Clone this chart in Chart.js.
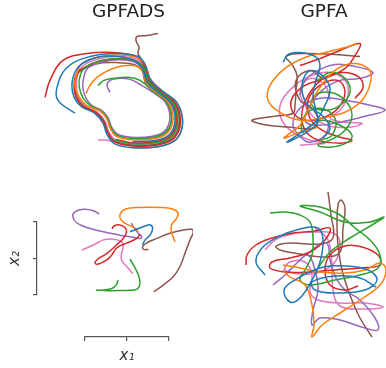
<!DOCTYPE html>
<html>
<head>
<meta charset="utf-8">
<script src="https://cdn.jsdelivr.net/npm/chart.js@4.4.1/dist/chart.umd.min.js"></script>
<style>
  body { margin: 0; background: #fff; }
  #wrap { position: relative; width: 386px; height: 368px; }
  #wrap canvas { position: absolute; }
</style>
</head>
<body>
<div id="wrap">
  <canvas id="gpfads_top" width="193" height="184" style="left:0;top:0"></canvas>
  <canvas id="gpfa_top" width="193" height="184" style="left:193px;top:0"></canvas>
  <canvas id="gpfads_bottom" width="193" height="184" style="left:0;top:184px"></canvas>
  <canvas id="gpfads_bottom_x" width="193" height="184" style="left:0;top:184px"></canvas>
  <canvas id="gpfa_bottom" width="193" height="184" style="left:193px;top:184px"></canvas>
</div>
<script>
// trajectory colours (matplotlib tab10)
const COLORS = {
    blue: '#1f77b4', orange: '#ff7f0e', green: '#2ca02c', red: '#d62728',
    purple: '#9467bd', brown: '#8c564b', pink: '#e377c2'
};
const PANEL_TITLES = ['GPFADS', 'GPFA'];
const AXIS_TICKS = [-1, 0, 1];
const AXIS_LABELS = ['x\u2081', 'x\u2082'];

// GPFADS, top row (latent pair 1)
const tl_blue = [[-4.5,-2.3],[-6.2,-1.0],[-6.3,0.3],[-5.3,2.3],[-3.0,3.4],[-0.3,3.7],[1.8,3.4],[2.50,2.61],[3.03,1.13],[4.20,-0.04],[5.58,-1.10],[6.21,-2.58],[6.11,-4.07],[5.36,-5.13],[3.77,-5.66],[1.34,-5.76],[-0.57,-5.34],[-1.31,-4.39],[-1.74,-3.22],[-2.59,-2.27],[-3.86,-1.63],[-4.60,-0.68],[-4.81,0.60],[-4.49,1.87],[-3.75,2.72],[-2.16,3.35],[-0.22,3.39],[1.48,2.97],[2.26,2.12],[2.72,0.83],[3.74,-0.18],[4.93,-1.10],[5.48,-2.39],[5.39,-3.68],[4.75,-4.60],[3.37,-5.06],[1.25,-5.15]];
const tl_orange = [[-3.4,-0.3],[-3.0,0.5],[-2.3,1.3],[-0.7,2.2],[1.3,2.5],[2.20,1.98],[2.64,0.75],[3.60,-0.22],[4.75,-1.10],[5.28,-2.33],[5.19,-3.56],[4.57,-4.44],[3.25,-4.88],[1.23,-4.97],[-0.36,-4.62],[-0.97,-3.83],[-1.32,-2.86],[-2.03,-2.07],[-3.26,-1.56],[-4.05,-0.72],[-4.5,0.5],[-4.30,1.76],[-3.75,2.72],[-2.16,3.35],[-0.25,3.56],[1.55,3.35],[2.50,2.61],[3.03,1.13],[4.20,-0.04],[5.58,-1.10],[6.21,-2.58],[6.11,-4.07],[5.36,-5.13],[3.77,-5.66],[1.34,-5.76]];
const tl_green = [[-2.2,0.5],[-1.6,1.0],[-0.7,1.2],[1.0,1.3],[2.0,1.0],[3.51,-0.25],[4.61,-1.10],[5.12,-2.29],[5.04,-3.48],[4.44,-4.33],[3.17,-4.76],[1.21,-4.84],[-0.32,-4.50],[-0.92,-3.74],[-1.26,-2.80],[-1.94,-2.04],[-2.96,-1.53],[-3.70,-0.75],[-4.08,0.37],[-3.96,1.56],[-3.37,2.39],[-1.92,2.97],[-0.17,3.17],[1.48,2.97],[2.35,2.30],[2.83,0.94],[3.90,-0.13],[5.16,-1.10],[5.74,-2.46],[5.65,-3.82],[4.97,-4.79],[3.51,-5.27],[1.28,-5.37],[-0.46,-4.98]];
const tl_red = [[-7.5,-0.7],[-7.0,1.0],[-5.7,3.0],[-3.3,3.7],[-0.7,3.8],[1.6,3.4],[2.43,2.47],[2.94,1.04],[4.07,-0.08],[5.39,-1.10],[6.00,-2.53],[5.90,-3.96],[5.19,-4.98],[3.66,-5.49],[1.31,-5.59],[-0.52,-5.18],[-1.24,-4.26],[-1.65,-3.14],[-2.46,-2.22],[-3.69,-1.61],[-4.40,-0.69],[-4.60,0.53],[-4.30,1.76],[-3.37,2.39],[-1.92,2.97],[-0.17,3.17],[1.48,2.97],[2.32,2.23],[2.79,0.90],[3.84,-0.15],[5.07,-1.10],[5.64,-2.43],[5.55,-3.76],[4.88,-4.71],[3.46,-5.19],[1.27,-5.28],[-0.44,-4.90]];
const tl_purple = [[-1.0,-0.2],[-1.3,0.5],[-1.0,1.0],[-0.2,1.2],[1.0,1.1],[2.0,0.6],[3.41,-0.28],[4.47,-1.10],[4.96,-2.25],[4.88,-3.40],[4.31,-4.22],[3.08,-4.63],[1.19,-4.71],[-0.28,-4.38],[-0.86,-3.64],[-1.19,-2.74],[-1.84,-2.00],[-2.83,-1.51],[-3.40,-0.77],[-3.72,0.26],[-3.61,1.36],[-3.21,2.25],[-1.81,2.83],[-0.14,3.07],[1.44,2.83],[2.28,2.16],[2.75,0.85],[3.77,-0.17],[4.98,-1.10],[5.54,-2.40],[5.44,-3.70],[4.79,-4.63],[3.40,-5.10],[1.26,-5.19]];
const tl_brown = [[3.8,5.7],[2.7,5.5],[1.7,5.4],[1.6,5.0],[1.9,4.3],[1.8,3.7],[2.2,3.0],[2.9,1.0],[4.0,-0.1],[5.3,-1.1],[5.9,-2.5],[5.8,-3.9],[5.1,-4.9],[3.6,-5.4],[1.3,-5.5],[-0.5,-5.1],[-1.2,-4.2],[-1.6,-3.1],[-2.4,-2.2],[-3.6,-1.6],[-4.3,-0.7],[-4.5,0.5],[-4.2,1.7],[-3.29,2.32],[-1.78,2.76],[-0.09,2.77],[1.40,2.60],[2.20,1.98],[2.57,0.69],[3.51,-0.25],[4.61,-1.10],[5.12,-2.29],[5.04,-3.48],[4.44,-4.33],[3.17,-4.76],[1.21,-4.84]];
const tl_pink = [[-2.0,2.9],[-0.17,3.17],[1.48,2.97],[2.35,2.30],[2.83,0.94],[3.90,-0.13],[5.16,-1.10],[5.74,-2.46],[5.65,-3.82],[4.97,-4.79],[3.51,-5.27],[1.28,-5.37],[-0.46,-4.98],[-1.14,-4.11],[-1.53,-3.04],[-2.31,-2.17],[-3.47,-1.59],[-4.15,-0.71],[-4.34,0.45],[-4.2,1.7],[-3.58,2.57],[-2.05,3.18],[-0.22,3.39],[1.52,3.18],[2.43,2.47],[2.94,1.04],[4.07,-0.08],[5.39,-1.10],[6.00,-2.53],[5.90,-3.96],[5.19,-4.98],[3.66,-5.49],[1.31,-5.59],[-0.52,-5.18],[-1.3,-5.0],[-2.2,-5.0]];

// GPFA, top row
const tr_blue = [[-3.7,2.8],[-3.2,3.6],[-2.0,3.8],[-0.5,3.4],[0.0,2.5],[-0.4,1.0],[-0.7,-0.5],[-0.4,-2.0],[-0.2,-3.2],[-1.0,-4.0],[-2.2,-4.7],[-3.3,-5.2],[-2.0,-4.3],[-0.5,-3.2],[0.5,-1.5],[1.0,0.2],[0.2,1.5],[-0.8,2.0],[-1.5,1.5],[-1.8,0.0],[-1.2,-1.5],[0.2,-2.5],[1.0,-3.8],[0.3,-4.8]];
const tr_orange = [[3.7,4.7],[2.5,4.3],[0.5,3.8],[-1.5,3.3],[-3.5,2.2],[-5.0,0.5],[-5.2,-1.0],[-4.0,-2.2],[-2.0,-3.0],[0.0,-2.8],[2.5,-2.2],[4.2,-1.0],[5.1,1.0],[4.8,2.2],[3.2,2.7],[1.5,2.0],[-0.2,0.0],[-1.2,-2.0],[-2.0,-3.5],[-3.0,-4.3],[-3.6,-4.8],[-2.0,-4.2],[-0.2,-3.7]];
const tr_green = [[-0.2,1.0],[1.0,1.8],[2.5,1.2],[3.0,-0.2],[2.0,-1.5],[0.5,-2.0],[-0.8,-1.5],[-0.5,-0.5],[1.0,-0.2],[2.5,-1.0],[3.2,-2.5],[2.5,-4.0],[1.0,-5.0],[-0.2,-5.5],[1.0,-5.7],[2.6,-5.3],[3.2,-4.5],[2.0,-3.5],[0.2,-3.0],[-1.0,-3.6],[-1.8,-4.2],[-1.5,-2.5],[0.0,-1.8],[1.5,-2.8],[1.2,-4.5],[0.0,-5.0]];
const tr_red = [[-2.0,2.5],[0.0,3.2],[2.0,4.0],[4.0,4.7],[3.5,3.5],[2.5,2.2],[0.5,1.2],[-1.5,0.5],[-2.8,-0.8],[-2.7,-2.2],[-1.5,-3.0],[0.2,-2.8],[1.8,-1.8],[2.5,-0.2],[1.8,1.0],[0.0,0.5],[-1.2,-1.0],[-1.0,-2.8],[0.2,-4.0],[2.0,-4.7],[3.2,-5.0],[2.0,-5.3],[-0.2,-5.0],[-1.5,-4.0],[-1.8,-2.2],[-1.0,-0.2],[0.5,1.3],[2.2,1.8],[3.8,1.4],[4.3,0.3],[3.5,-0.8]];
const tr_purple = [[-2.0,-0.5],[-1.5,1.0],[-0.2,2.0],[1.5,2.6],[3.5,2.4],[5.3,1.8],[4.0,1.2],[2.0,1.0],[0.2,0.0],[-1.0,-1.5],[-1.5,-3.0],[-0.5,-3.5],[2.0,-3.2],[4.5,-2.6],[6.5,-2.0],[5.0,-1.5],[2.5,-1.0],[0.0,-0.8],[-2.0,-1.8],[-2.7,-3.5],[-1.8,-4.8],[-1.0,-5.2],[0.5,-4.5],[1.0,-3.0]];
const tr_brown = [[4.0,3.4],[1.5,3.6],[-1.5,3.7],[-3.4,3.4],[-2.8,2.6],[-2.3,1.5],[-2.4,0.0],[-2.5,-1.5],[-2.7,-2.3],[-4.5,-2.6],[-6.8,-3.0],[-5.8,-3.4],[-3.0,-3.7],[-0.8,-3.8],[-0.2,-3.0],[-0.8,-1.8],[-2.0,-1.0],[-2.4,1.0],[-1.0,2.0],[0.2,1.2]];
const tr_pink = [[-2.0,-5.5],[-0.8,-5.4],[0.5,-5.3],[-1.0,-5.0],[-3.0,-4.0],[-4.0,-2.5],[-3.8,-1.0],[-2.5,0.5],[-0.8,1.5],[1.0,1.8],[2.5,1.0],[2.8,-0.5],[2.0,-2.0],[1.0,-2.8],[2.5,-3.2],[4.2,-3.3],[3.0,-3.7],[1.0,-3.6],[-0.5,-2.8],[-1.5,-1.5],[-2.0,0.0],[-1.0,1.2],[0.5,0.5],[1.0,-1.0]];

// GPFADS, bottom row (latent pair 2, axis units)
const bl_blue = [[0.07,0.73],[0.24,0.81],[0.43,0.89],[0.55,0.92],[0.61,0.83],[0.55,0.64],[0.43,0.51],[0.37,0.37]];
const bl_orange = [[1.14,0.46],[1.06,0.73],[1.06,0.92],[1.18,1.10],[1.22,1.24],[1.10,1.35],[0.79,1.40],[0.31,1.40],[-0.05,1.35],[-0.17,1.19],[-0.13,1.04],[0.03,0.92],[0.19,0.83],[0.27,0.73]];
const bl_green_a = [[-0.21,-0.59],[-0.26,-0.73],[-0.36,-0.82],[-0.56,-0.86],[-0.74,-0.87]];
const bl_green_b = [[0.07,-0.02],[0.17,-0.21],[0.27,-0.45],[0.31,-0.68],[0.25,-0.83],[0.07,-0.87],[-0.25,-0.88],[-0.56,-0.88]];
const bl_red = [[-0.36,0.81],[-0.31,0.89],[-0.17,0.92],[-0.05,0.85],[-0.01,0.73],[-0.09,0.55],[-0.25,0.37],[-0.48,0.14],[-0.72,-0.04],[-0.76,-0.13],[-0.68,-0.15],[-0.48,-0.04],[-0.36,0.10],[-0.29,0.23],[-0.21,0.32],[-0.01,0.42],[0.23,0.55],[0.31,0.67]];
const bl_purple = [[-0.66,1.22],[-0.80,1.31],[-1.04,1.35],[-1.24,1.28],[-1.29,1.15],[-1.20,0.98],[-0.96,0.85],[-0.56,0.73],[-0.17,0.64],[0.15,0.58],[0.31,0.55],[0.35,0.60],[0.26,0.70],[0.17,0.84],[0.10,0.97]];
const bl_brown = [[0.64,-0.91],[0.86,-0.73],[1.10,-0.50],[1.26,-0.22],[1.38,0.14],[1.50,0.51],[1.58,0.73],[1.54,0.80],[1.34,0.78],[1.02,0.69],[0.71,0.55],[0.47,0.43],[0.37,0.32],[0.40,0.25],[0.51,0.25]];
const bl_pink = [[-1.08,0.23],[-0.80,0.37],[-0.56,0.51],[-0.33,0.53],[-0.13,0.46],[-0.09,0.32],[-0.13,0.14],[-0.13,-0.04],[-0.01,-0.22],[0.14,-0.41]];

// GPFA, bottom row
const br_blue = [[-5.5,-1.0],[-6.4,0.3],[-5.8,1.7],[-4.2,2.8],[-2.0,3.6],[-0.2,3.7],[0.3,2.5],[0.0,0.3],[-0.8,-1.5],[-2.0,-3.3],[-3.0,-3.7],[-3.6,-2.5],[-2.5,-1.5],[0.0,-0.3],[2.5,-0.1],[4.8,-0.5],[5.7,-1.5],[4.5,-2.5],[1.5,-2.8],[-0.5,-2.5],[-0.8,-1.7],[1.5,-1.1],[4.0,-1.3],[5.6,-2.2]];
const br_orange = [[-3.7,0.0],[-2.0,-0.3],[0.0,-0.7],[2.5,-0.8],[4.5,-0.5],[6.0,0.2],[6.6,-0.5],[6.0,-2.0],[4.0,-3.5],[2.0,-4.8],[0.2,-6.0],[-0.8,-7.2],[-0.6,-6.0],[-0.8,-4.0],[-1.5,-2.0],[-3.0,-1.2],[-3.7,-0.5]];
const br_green = [[-5.0,5.2],[-3.5,5.3],[-2.0,5.0],[-1.0,4.3],[-0.7,2.7],[-0.8,1.0],[-1.5,-0.5],[-2.0,-1.5],[-1.0,-2.0],[1.5,-1.5],[4.0,-1.0],[5.8,-0.3],[6.0,1.0],[5.0,2.5],[3.5,3.7],[2.0,5.0],[0.0,5.8],[-2.0,5.9],[0.0,5.3],[2.5,4.3],[5.0,4.3],[6.4,4.8],[5.2,4.0],[3.0,2.7],[1.0,1.3],[-0.2,-0.3]];
const br_red = [[-7.4,0.0],[-7.3,1.0],[-6.4,2.0],[-4.8,2.7],[-2.7,3.2],[-0.5,3.4],[1.0,3.7],[0.5,2.5],[-1.0,1.3],[-3.0,0.7],[-4.8,0.3],[-5.0,-0.3],[-3.5,-0.7],[-1.0,-0.7],[1.5,-0.5],[4.0,-0.3],[6.0,0.0],[5.8,1.0],[4.2,1.8],[2.5,1.9],[1.0,1.0],[0.5,-0.5],[1.0,-2.0],[2.5,-2.5],[3.8,-2.1]];
const br_purple = [[-4.7,-2.0],[-3.5,-1.0],[-2.0,0.5],[-0.8,1.5],[0.2,2.2],[0.8,2.0],[1.0,0.5],[1.6,-1.3],[2.5,-2.5],[4.0,-3.5],[5.5,-5.3],[5.8,-6.5],[4.5,-6.3],[2.0,-5.5],[0.0,-5.3],[-0.8,-6.0],[-0.7,-4.5],[-0.2,-2.5],[-0.5,-0.5],[-1.2,1.0],[-2.2,0.3],[-3.5,-1.0]];
const br_brown = [[5.2,-7.2],[4.0,-5.3],[3.0,-3.0],[2.2,-0.5],[1.8,2.0],[1.7,4.3],[1.8,6.0],[2.1,6.5],[2.5,5.7],[2.3,3.7],[2.0,1.3],[0.5,0.8],[-2.0,1.1],[-4.0,1.5],[-4.4,1.9],[-3.0,2.2],[0.0,2.1],[1.3,2.7],[1.1,5.0],[0.8,7.3]];
const br_pink = [[-5.5,1.5],[-4.5,2.5],[-2.8,3.1],[-0.5,3.3],[1.5,3.1],[2.0,2.0],[1.5,0.3],[0.0,-0.7],[-2.0,-0.9],[-3.5,-0.5],[-3.0,0.3],[-1.5,0.3],[-0.8,-1.0],[-1.0,-2.7],[-0.2,-3.5],[2.0,-3.8],[4.5,-3.8],[6.3,-4.2],[4.5,-4.4],[2.0,-4.1],[1.3,-2.5],[1.2,0.0],[0.8,2.5],[-0.5,3.7]];

const FONT = 'DejaVu Sans';
const SPINE = '#555';

function to_points(arr) {
    return arr.map(p => ({x: p[0], y: p[1]}));
}

function line_dataset(arr, color) {
    return {
        data: to_points(arr),
        borderColor: color,
        backgroundColor: color,
        borderWidth: 1.5,
        pointRadius: 0,
        pointHoverRadius: 0,
        tension: 0.4,
        fill: false,
        clip: false
    };
}

function panel_datasets(series) {
    return series.map(s => line_dataset(s[0], COLORS[s[1]]));
}

function hidden_scale(min, max) {
    return {type: 'linear', display: false, min: min, max: max};
}

function make_panel(canvas_id, datasets, x_range, y_range, padding, title_text) {
    const ctx = document.getElementById(canvas_id).getContext('2d');
    return new Chart(ctx, {
        type: 'line',
        data: {datasets: datasets},
        options: {
            animation: false, responsive: false, devicePixelRatio: 1,
            layout: {padding: padding},
            scales: {
                x: hidden_scale(x_range[0], x_range[1]),
                y: hidden_scale(y_range[0], y_range[1])
            },
            plugins: {
                legend: {display: false},
                tooltip: {enabled: false},
                title: {
                    display: !!title_text, text: title_text || '',
                    color: '#222', padding: {top: 1, bottom: 0},
                    font: {family: FONT, size: 18.5, weight: 'normal', lineHeight: 1.2}
                }
            }
        }
    });
}

make_panel('gpfads_top', panel_datasets([
    [tl_blue, 'blue'], [tl_orange, 'orange'], [tl_green, 'green'], [tl_red, 'red'],
    [tl_purple, 'purple'], [tl_brown, 'brown'], [tl_pink, 'pink']
]), [-5.6, 7.3], [-9.4, 6.74], {left: 64}, PANEL_TITLES[0]);

make_panel('gpfa_top', panel_datasets([
    [tr_blue, 'blue'], [tr_orange, 'orange'], [tr_green, 'green'], [tr_red, 'red'],
    [tr_purple, 'purple'], [tr_brown, 'brown'], [tr_pink, 'pink']
]), [-5.8, 6.6], [-9.4, 6.74], {left: 69}, PANEL_TITLES[1]);

make_panel('gpfa_bottom', panel_datasets([
    [br_blue, 'blue'], [br_orange, 'orange'], [br_green, 'green'], [br_red, 'red'],
    [br_purple, 'purple'], [br_brown, 'brown'], [br_pink, 'pink']
]), [-12.7, 6.6], [-10.3, 8.1], 0, null);

// bounded spine with three ticks, matplotlib style
function spine_scale(position, label, fit) {
    return {
        type: 'linear', position: position,
        min: AXIS_TICKS[0], max: AXIS_TICKS[AXIS_TICKS.length - 1],
        afterBuildTicks: (scale) => { scale.ticks = AXIS_TICKS.map(v => ({value: v})); },
        afterFit: fit,
        ticks: {display: false},
        grid: {display: true, drawOnChartArea: false, drawTicks: true, tickLength: 4,
            color: SPINE, lineWidth: 1.2},
        border: {display: true, color: SPINE, width: 1.2},
        title: {display: true, text: label, color: '#333',
            padding: position === 'left' ? {top: 6, bottom: 0} : {top: 0, bottom: 3},
            font: {family: FONT, size: 15, style: 'italic', lineHeight: 1.2}}
    };
}

// GPFADS bottom: trajectories plus the x2 spine
new Chart(document.getElementById('gpfads_bottom').getContext('2d'), {
    type: 'line',
    data: {datasets: panel_datasets([
        [bl_blue, 'blue'], [bl_orange, 'orange'], [bl_green_a, 'green'], [bl_green_b, 'green'],
        [bl_red, 'red'], [bl_purple, 'purple'], [bl_brown, 'brown'], [bl_pink, 'pink']
    ])},
    options: {
        animation: false, responsive: false, devicePixelRatio: 1,
        layout: {padding: {top: 38, bottom: 73, left: 0, right: 0}},
        scales: {
            x: hidden_scale(-2.143, 1.571),
            y: spine_scale('left', AXIS_LABELS[1], (s) => { s.width = 37; })
        },
        plugins: {legend: {display: false}, tooltip: {enabled: false}}
    }
});

// x1 spine under the GPFADS bottom panel
new Chart(document.getElementById('gpfads_bottom_x').getContext('2d'), {
    type: 'line',
    data: {datasets: []},
    options: {
        animation: false, responsive: false, devicePixelRatio: 1,
        layout: {padding: {top: 0, bottom: 0, left: 85, right: 24}},
        scales: {
            x: spine_scale('bottom', AXIS_LABELS[0], (s) => { s.height = 31; }),
            y: hidden_scale(-1, 1)
        },
        plugins: {legend: {display: false}, tooltip: {enabled: false}}
    }
});
</script>
</body>
</html>
